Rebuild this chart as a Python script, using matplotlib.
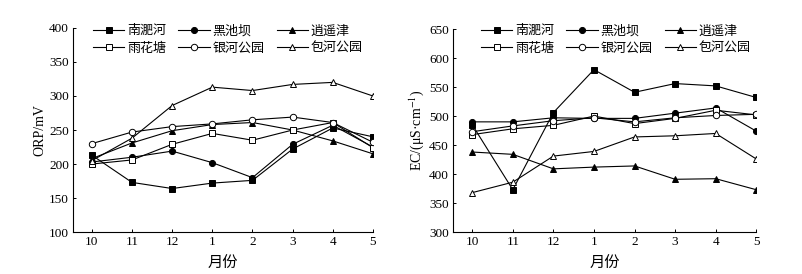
import matplotlib
matplotlib.use("Agg")
import matplotlib.pyplot as plt

plt.rcParams['font.family'] = ['Liberation Serif', 'Noto Sans CJK SC']
plt.rcParams['mathtext.fontset'] = 'stix'

months = ['10', '11', '12', '1', '2', '3', '4', '5']
sites = ['南淝河', '黑池坝', '逍遥津', '雨花塘', '银河公园', '包河公园']

# ORP (mV)
orp_nfh = [213, 173, 164, 172, 176, 222, 253, 240]
orp_hcb = [203, 210, 219, 202, 180, 229, 257, 225]
orp_xyj = [208, 231, 249, 258, 261, 250, 234, 215]
orp_yht = [200, 206, 229, 245, 235, 250, 261, 224]
orp_yhgy = [230, 247, 255, 259, 265, 269, 261, 232]
orp_bhgy = [205, 238, 286, 313, 308, 317, 320, 300]

# EC (uS/cm)
ec_nfh = [485, 373, 506, 580, 541, 556, 552, 532]
ec_hcb = [490, 490, 497, 496, 496, 505, 514, 474]
ec_xyj = [438, 434, 409, 412, 414, 391, 392, 373]
ec_yht = [468, 478, 484, 500, 487, 496, 510, 502]
ec_yhgy = [473, 483, 492, 497, 490, 497, 501, 503]
ec_bhgy = [368, 386, 431, 439, 464, 466, 470, 426]

styles = [('s', 'black'), ('o', 'black'), ('^', 'black'),
          ('s', 'white'), ('o', 'white'), ('^', 'white')]

W, H = 802, 274
fig = plt.figure(figsize=(W / 100, H / 100), dpi=100)
ax1 = fig.add_axes([0.091, 0.153, 0.374, 0.745])
ax2 = fig.add_axes([0.565, 0.153, 0.378, 0.741])


def draw(ax, series, ylim, yticks, ylabel, leg_xy):
    x = list(range(len(months)))
    lines = []
    for name, vals, (m, fc) in zip(sites, series, styles):
        ln, = ax.plot(x, vals, marker=m, color='black', markerfacecolor=fc,
                      markeredgecolor='black', markersize=4.4 if fc == 'black' else 4.6,
                      markeredgewidth=0.7, linewidth=0.8, label=name)
        lines.append(ln)
    ax.set_xlim(-0.47, 7)
    ax.set_ylim(*ylim)
    ax.set_yticks(yticks)
    ax.set_xticks(x)
    ax.set_xticklabels(months)
    for s in ['top', 'right']:
        ax.spines[s].set_visible(False)
    for s in ['left', 'bottom']:
        ax.spines[s].set_linewidth(0.8)
    ax.tick_params(direction='in', length=2.5, width=0.7, labelsize=9.5, pad=3)
    ax.set_ylabel(ylabel, fontsize=10, labelpad=2)
    ax.set_xlabel('月份', fontsize=11, labelpad=6)
    order = [0, 3, 1, 4, 2, 5]
    ax.legend([lines[i] for i in order], [sites[i] for i in order], ncol=3,
              frameon=False, fontsize=9.4, loc='upper left',
              bbox_to_anchor=(leg_xy[0] / W, 1 - leg_xy[1] / H),
              bbox_transform=fig.transFigure, borderpad=0,
              handlelength=2.4, handletextpad=0.2,
              columnspacing=0.95, labelspacing=0.4, borderaxespad=0)


draw(ax1, [orp_nfh, orp_hcb, orp_xyj, orp_yht, orp_yhgy, orp_bhgy],
     (100, 400), range(100, 401, 50), 'ORP/mV', (93, 25))
draw(ax2, [ec_nfh, ec_hcb, ec_xyj, ec_yht, ec_yhgy, ec_bhgy],
     (300, 650), range(300, 651, 50), 'EC/(μS·cm$^{-1}$)', (481, 25))

fig.savefig('out.png', dpi=100)
